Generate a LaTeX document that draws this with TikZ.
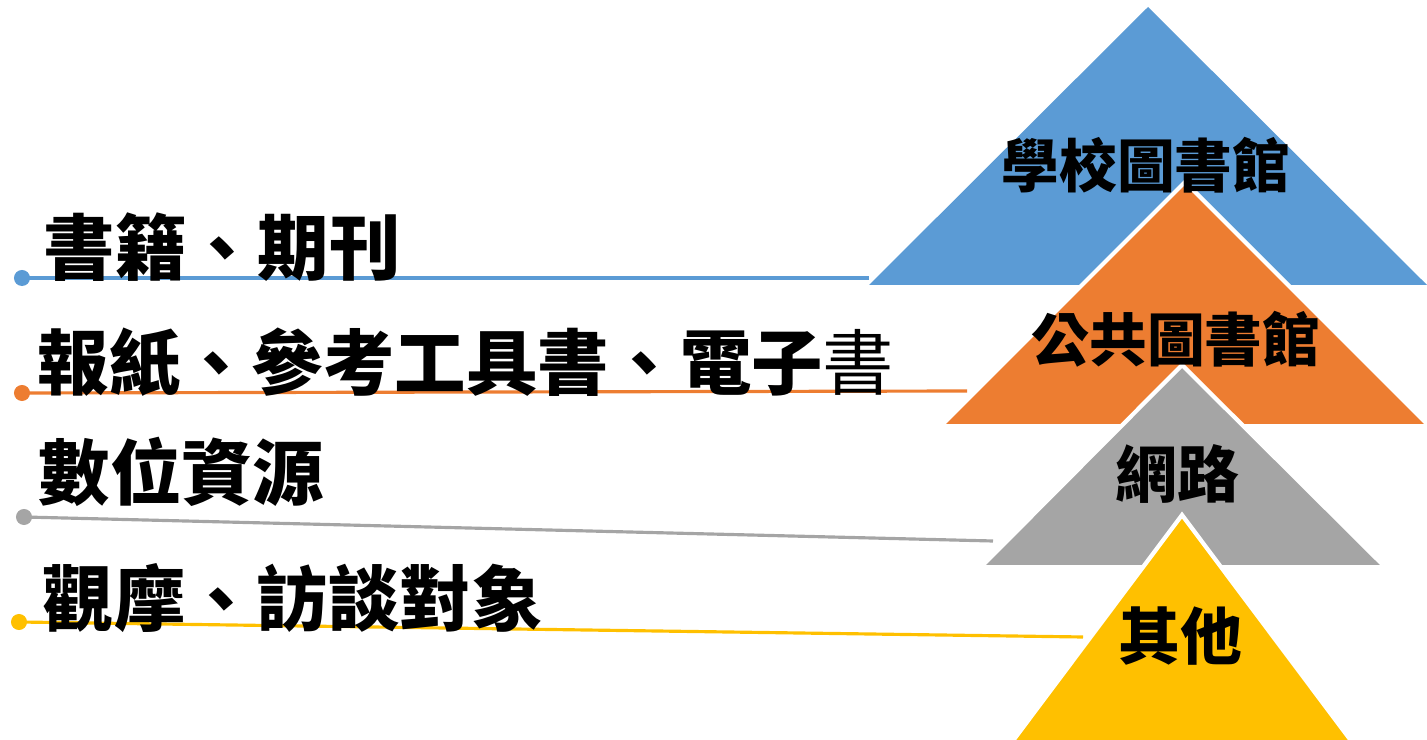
\documentclass[tikz,border=0pt]{standalone}
\usepackage{fontspec}
\newfontfamily\cjk{Noto Sans CJK TC}
\usetikzlibrary{positioning}
\definecolor{tblue}{HTML}{5B9BD5}
\definecolor{torange}{HTML}{ED7D31}
\definecolor{tgray}{HTML}{A5A5A5}
\definecolor{tyellow}{HTML}{FFC000}

\begin{document}
\begin{tikzpicture}[x=0.01cm,y=-0.01cm,font=\cjk\bfseries]
\tikzstyle{knob}=[circle,inner sep=0pt,minimum size=0.16cm]
\tikzstyle{lbl}=[anchor=west,inner sep=0pt,font=\cjk\bfseries\fontsize{20.3}{24}\selectfont]
\tikzstyle{ttl}=[inner sep=0pt,font=\cjk\bfseries\fontsize{16.4}{20}\selectfont]
\tikzstyle{ttlb}=[inner sep=0pt,font=\cjk\bfseries\fontsize{17.6}{21}\selectfont]
\tikzstyle{rim}=[white,line width=1.2pt]
\useasboundingbox (0,0) rectangle (1427,740);
\node[knob,fill=tblue] (d1) at (22,278) {};
\node[knob,fill=torange] (d2) at (22,393) {};
\node[knob,fill=tgray] (d3) at (24,517) {};
\node[knob,fill=tyellow] (d4) at (19,622) {};
\coordinate (e1) at (869,278); \coordinate (e2) at (967,391); \coordinate (e3) at (993,541); \coordinate (e4) at (1083,637);
\draw[tblue,line width=0.9pt] (d1.center) -- (e1);
\draw[torange,line width=0.9pt] (d2.center) -- (e2);
\draw[tgray,line width=0.9pt] (d3.center) -- (e3);
\draw[tyellow,line width=0.9pt] (d4.center) -- (e4);
\node[lbl] (s1) at (43,247) {書籍、期刊};
\node[lbl] (s2) at (37,362) {報紙、參考工具書、電子{\mdseries 書}};
\node[lbl] (s3) at (38,472) {數位資源};
\node[lbl] (s4) at (42,598) {觀摩、訪談對象};
\coordinate (a1) at (1148,7); \coordinate (a2) at (1185,182); \coordinate (a3) at (1182,365); \coordinate (a4) at (1182,515);
\fill[tblue] (a1) -- (1427,285) -- (869,285) -- cycle;
\fill[torange] (a2) -- (1427,424) -- (943,424) -- cycle;
\draw[rim] (943,424) -- (a2) -- (1427,424);
\fill[tgray] (a3) -- (1383,565) -- (983,565) -- cycle;
\draw[rim] (983,565) -- (a3) -- (1383,565);
\fill[tyellow] (a4) -- (1352,742) -- (1012,742) -- cycle;
\draw[rim] (1012,742) -- (a4) -- (1352,742);
\node[ttl] (t1) at (1146,165) {學校圖書館};
\node[ttl] (t2) at (1176,339) {公共圖書館};
\node[ttlb] (t3) at (1177,474) {網路};
\node[ttlb] (t4) at (1180,636) {其他};
\end{tikzpicture}
\end{document}
